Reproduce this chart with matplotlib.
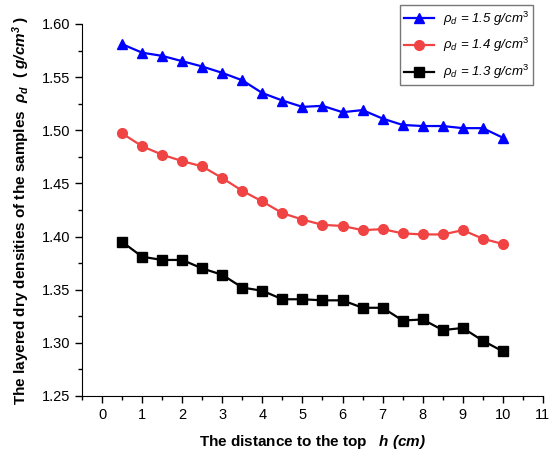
import matplotlib
matplotlib.use("Agg")
import matplotlib.pyplot as plt
from matplotlib.ticker import MultipleLocator

plt.rcParams['font.family'] = ['Liberation Sans', 'Noto Sans CJK SC', 'DejaVu Sans']
plt.rcParams['mathtext.fontset'] = 'custom'
plt.rcParams['mathtext.rm'] = 'Liberation Sans'
plt.rcParams['mathtext.it'] = 'Liberation Sans:italic'
plt.rcParams['mathtext.bf'] = 'Liberation Sans:italic:bold'

# distance from the top of the sample (cm)
h = [0.5, 1.0, 1.5, 2.0, 2.5, 3.0, 3.5, 4.0, 4.5, 5.0,
     5.5, 6.0, 6.5, 7.0, 7.5, 8.0, 8.5, 9.0, 9.5, 10.0]

# layered dry densities (g/cm3) for each target density
rho_15 = [1.581, 1.573, 1.570, 1.565, 1.560, 1.554, 1.547, 1.535, 1.528, 1.522,
          1.523, 1.517, 1.519, 1.511, 1.505, 1.504, 1.504, 1.502, 1.502, 1.493]
rho_14 = [1.497, 1.485, 1.477, 1.471, 1.466, 1.455, 1.443, 1.433, 1.422, 1.416,
          1.411, 1.410, 1.406, 1.407, 1.403, 1.402, 1.402, 1.406, 1.398, 1.393]
rho_13 = [1.395, 1.381, 1.378, 1.378, 1.370, 1.364, 1.352, 1.349, 1.341, 1.341,
          1.340, 1.340, 1.333, 1.333, 1.321, 1.322, 1.312, 1.314, 1.302, 1.292]

fig = plt.figure(figsize=(5.58, 4.57), dpi=100)
ax = fig.add_axes([0.147, 0.1335, 0.826, 0.814])

ax.plot(h, rho_15, color='#0000ff', marker='^', markersize=7, lw=1.6,
        label=r'$\rho_d$ = 1.5 g/cm$^3$')
ax.plot(h, rho_14, color='#f04444', marker='o', markersize=7, lw=1.6,
        label=r'$\rho_d$ = 1.4 g/cm$^3$')
ax.plot(h, rho_13, color='black', marker='s', markersize=6.5, lw=1.6,
        label=r'$\rho_d$ = 1.3 g/cm$^3$')

ax.set_xlim(-0.5, 11)
ax.set_ylim(1.25, 1.60)
ax.xaxis.set_major_locator(MultipleLocator(1))
ax.xaxis.set_minor_locator(MultipleLocator(0.5))
ax.yaxis.set_major_locator(MultipleLocator(0.05))
ax.yaxis.set_minor_locator(MultipleLocator(0.025))
ax.yaxis.set_major_formatter(matplotlib.ticker.FormatStrFormatter('%.2f'))

ax.spines['top'].set_visible(False)
ax.spines['right'].set_visible(False)
ax.tick_params(which='major', direction='out', length=5, width=1, labelsize=10.5)
ax.tick_params(which='minor', direction='out', length=3, width=1)

ax.set_xlabel(r'The distance to the top   $\mathbf{h\ (cm)}$',
              fontsize=11, fontweight='bold', labelpad=8)
ax.set_ylabel(r'The layered dry densities of the samples  $\mathbf{\rho_d}$  ( $\mathbf{g/cm^3}$ )',
              fontsize=11, fontweight='bold', labelpad=7)

leg = fig.legend(loc='upper right', bbox_to_anchor=(0.956, 0.988),
                 prop={'style': 'italic', 'size': 9.5}, fancybox=False,
                 edgecolor='#555555', handlelength=2.3, handletextpad=0.7,
                 borderpad=0.3, borderaxespad=0, labelspacing=0.65)
leg.get_frame().set_linewidth(1)

fig.savefig('out.png', dpi=100)
